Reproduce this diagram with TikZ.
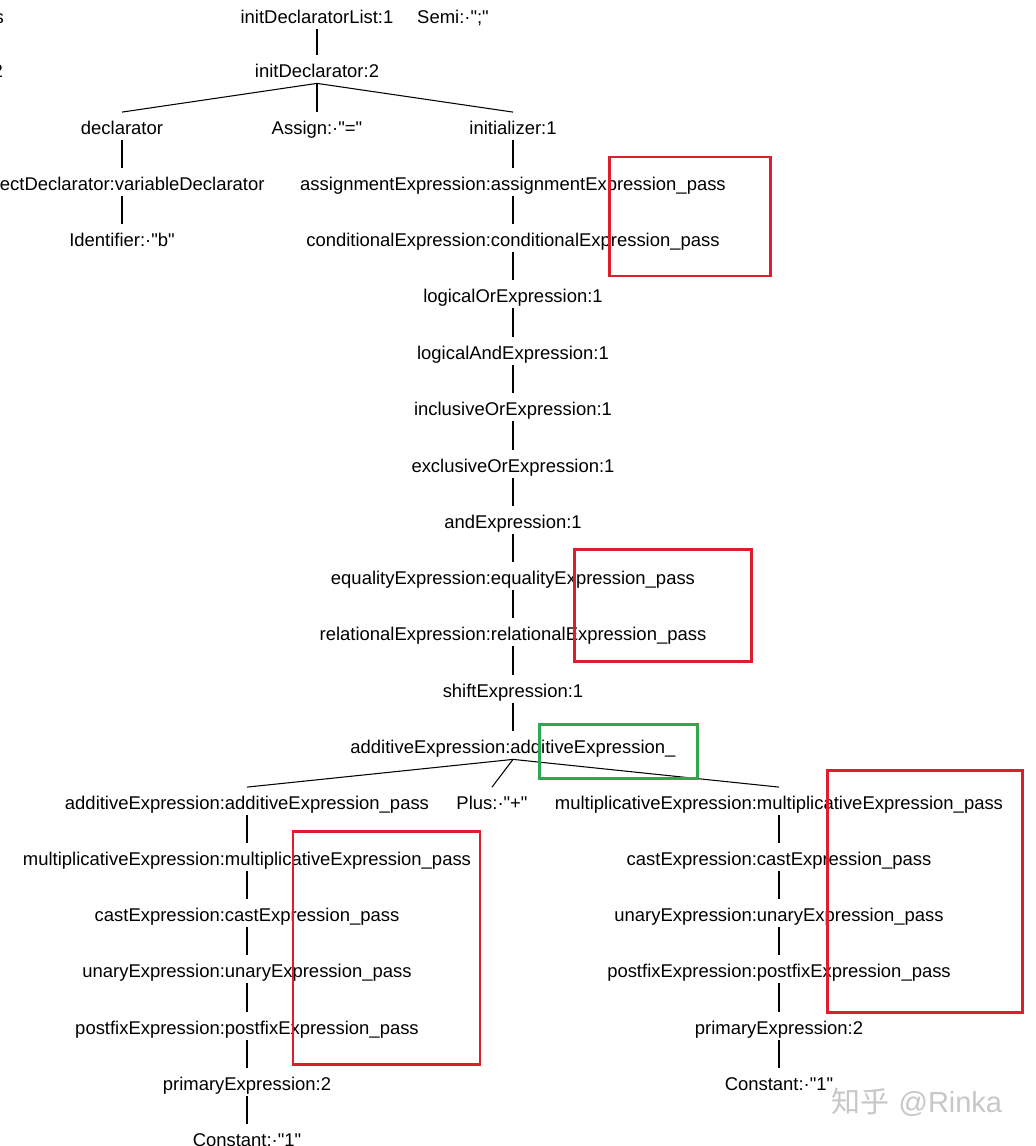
\documentclass[tikz,border=0pt]{standalone}
\usepackage{fontspec}
\setmainfont{Liberation Sans}
\newfontfamily\cjkfont{Noto Sans CJK SC}
\definecolor{markred}{RGB}{222,30,45}
\definecolor{markgreen}{RGB}{46,168,80}
\newcommand{\qt}{\textquotedbl}
\tikzset{
  treenode/.style={font=\fontsize{10.5}{12}\selectfont, inner xsep=1pt, inner ysep=2pt,
    text height=10.7pt, text depth=1pt, yshift=1pt},
  edge/.style={line width=0.6pt},
  redbox/.style={draw=markred, line width=1.7pt},
  greenbox/.style={draw=markgreen, line width=1.7pt},
  watermark/.style={font=\fontsize{16.5}{18}\selectfont, text=black!22}
}
\begin{document}
\begin{tikzpicture}[x=0.02cm,y=-0.02cm]
  \useasboundingbox (0,0) rectangle (1035,1146);
  \clip (0,0) rectangle (1035,1146);
  % top of the tree
  \node[treenode] (declList) at (317,17) {initDeclaratorList:1};
  \node[treenode] (semi) at (453,17) {Semi:·\qt;\qt};
  \node[treenode,anchor=east] (cutS) at (6,17) {s};
  \node[treenode] (initDecl) at (317,71) {initDeclarator:2};
  \node[treenode,anchor=east] (cutTwo) at (5,71) {2};
  \node[treenode] (decl) at (122,128) {declarator};
  \node[treenode] (assign) at (317,128) {Assign:·\qt=\qt};
  \node[treenode] (init) at (513,128) {initializer:1};
  \node[treenode] (directDecl) at (122,184) {directDeclarator:variableDeclarator};
  \node[treenode] (ident) at (122,240) {Identifier:·\qt b\qt};
  % expression chain
  \node[treenode] (assignExpr) at (513,184) {assignmentExpression:assignmentExpression\_pass};
  \node[treenode] (condExpr) at (513,240) {conditionalExpression:conditionalExpression\_pass};
  \node[treenode] (logOr) at (513,296) {logicalOrExpression:1};
  \node[treenode] (logAnd) at (513,353) {logicalAndExpression:1};
  \node[treenode] (inclOr) at (513,409) {inclusiveOrExpression:1};
  \node[treenode] (exclOr) at (513,466) {exclusiveOrExpression:1};
  \node[treenode] (andExpr) at (513,522) {andExpression:1};
  \node[treenode] (eqExpr) at (513,578) {equalityExpression:equalityExpression\_pass};
  \node[treenode] (relExpr) at (513,634) {relationalExpression:relationalExpression\_pass};
  \node[treenode] (shiftExpr) at (513,691) {shiftExpression:1};
  \node[treenode] (addExpr) at (513,747) {additiveExpression:additiveExpression\_};
  % left operand
  \node[treenode] (addPass) at (247,803) {additiveExpression:additiveExpression\_pass};
  \node[treenode] (mulLeft) at (247,859) {multiplicativeExpression:multiplicativeExpression\_pass};
  \node[treenode] (castLeft) at (247,915) {castExpression:castExpression\_pass};
  \node[treenode] (unaryLeft) at (247,971) {unaryExpression:unaryExpression\_pass};
  \node[treenode] (postLeft) at (247,1028) {postfixExpression:postfixExpression\_pass};
  \node[treenode] (primLeft) at (247,1084) {primaryExpression:2};
  \node[treenode] (constLeft) at (247,1140) {Constant:·\qt 1\qt};
  % operator and right operand
  \node[treenode] (plus) at (492,803) {Plus:·\qt+\qt};
  \node[treenode] (mulRight) at (779,803) {multiplicativeExpression:multiplicativeExpression\_pass};
  \node[treenode] (castRight) at (779,859) {castExpression:castExpression\_pass};
  \node[treenode] (unaryRight) at (779,915) {unaryExpression:unaryExpression\_pass};
  \node[treenode] (postRight) at (779,971) {postfixExpression:postfixExpression\_pass};
  \node[treenode] (primRight) at (779,1028) {primaryExpression:2};
  \node[treenode] (constRight) at (779,1084) {Constant:·\qt 1\qt};
  % tree edges
  \foreach \a/\b in {declList/initDecl, initDecl/decl, initDecl/assign, initDecl/init,
      decl/directDecl, directDecl/ident, init/assignExpr, assignExpr/condExpr,
      condExpr/logOr, logOr/logAnd, logAnd/inclOr, inclOr/exclOr, exclOr/andExpr,
      andExpr/eqExpr, eqExpr/relExpr, relExpr/shiftExpr, shiftExpr/addExpr,
      addExpr/addPass, addExpr/plus, addExpr/mulRight,
      addPass/mulLeft, mulLeft/castLeft, castLeft/unaryLeft, unaryLeft/postLeft,
      postLeft/primLeft, primLeft/constLeft,
      mulRight/castRight, castRight/unaryRight, unaryRight/postRight,
      postRight/primRight, primRight/constRight}
    \draw[edge] (\a.south) -- (\b.north);
  % highlight boxes
  \draw[redbox] (609,157) rectangle (770,276);
  \draw[redbox] (574,549) rectangle (751,661);
  \draw[redbox] (293,831) rectangle (480,1064);
  \draw[redbox] (827,770) rectangle (1022,1012);
  \draw[greenbox] (539,724) rectangle (697,778);
  \node[watermark] (mark) at (917,1102) {{\cjkfont 知乎}\hspace{0.3em}@Rinka};
\end{tikzpicture}
\end{document}
